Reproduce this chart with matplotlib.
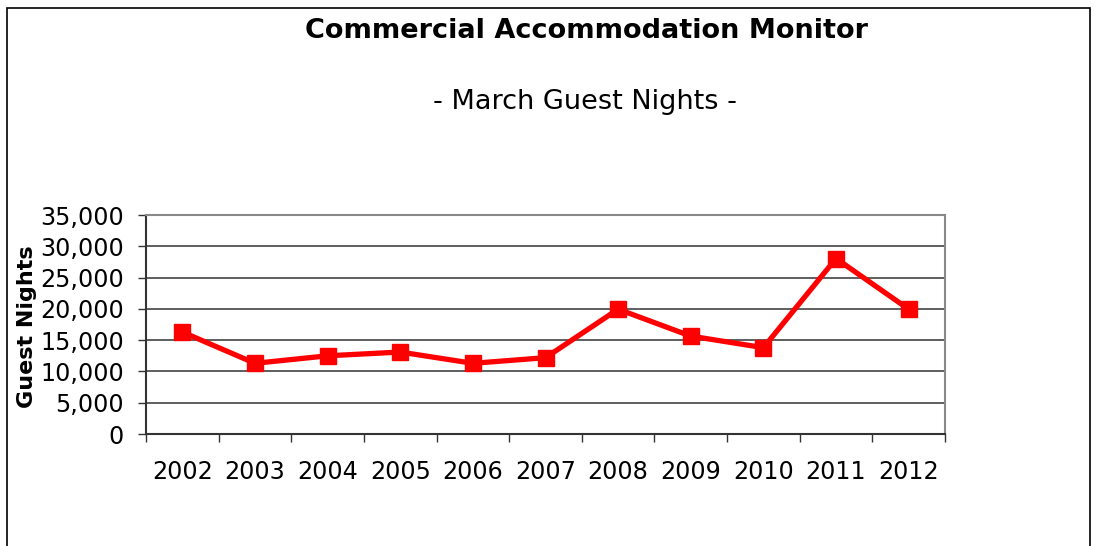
import matplotlib.pyplot as plt
from matplotlib.patches import Rectangle
from matplotlib.ticker import FixedLocator, FuncFormatter

# data
years = ["2002", "2003", "2004", "2005", "2006", "2007",
         "2008", "2009", "2010", "2011", "2012"]
guest_nights = [16300, 11300, 12500, 13100, 11300, 12200,
                19950, 15650, 13800, 28050, 19950]
y_ticks = [0, 5000, 10000, 15000, 20000, 25000, 30000, 35000]

fig = plt.figure(figsize=(10.94, 5.46), dpi=100)
fig.patches.append(Rectangle((0.0064, -0.02), 0.9896, 1.005, transform=fig.transFigure,
                             fill=False, edgecolor="black", linewidth=1.2))

ax = fig.add_axes([0.1335, 0.2051, 0.7303, 0.4011])

x = list(range(len(years)))
ax.plot(x, guest_nights, color="#ff0000", linewidth=3.8,
        marker="s", markersize=11, markeredgecolor="#ff0000")

ax.set_xlim(-0.5, len(years) - 0.5)
ax.set_ylim(0, 35000)

# category labels at centres, tick marks between categories
ax.xaxis.set_major_locator(FixedLocator([i - 0.5 for i in range(len(years) + 1)]))
ax.xaxis.set_major_formatter(FuncFormatter(lambda v, p: ""))
ax.xaxis.set_minor_locator(FixedLocator(x))
ax.set_xticklabels(years, minor=True)
ax.tick_params(axis="x", which="major", length=6, width=1, color="#333333", direction="out")
ax.tick_params(axis="x", which="minor", length=0, pad=19, labelsize=17.2)

ax.set_yticks(y_ticks)
ax.yaxis.set_major_formatter(FuncFormatter(lambda v, p: f"{int(v):,}"))
ax.tick_params(axis="y", length=6, width=1, color="#333333", direction="out",
               labelsize=17.2, pad=10)

ax.grid(axis="y", color="#333333", linewidth=1.1)
ax.set_axisbelow(True)

for side in ["top", "right"]:
    ax.spines[side].set_color("#888888")
    ax.spines[side].set_linewidth(1.5)
for side in ["left", "bottom"]:
    ax.spines[side].set_color("#333333")
    ax.spines[side].set_linewidth(1.5)

ax.set_ylabel("Guest Nights", fontsize=16, fontweight="bold")
ax.yaxis.set_label_coords(-0.137, 0.49)

fig.text(0.536, 0.943, "Commercial Accommodation Monitor", ha="center", va="center",
         fontsize=19.5, fontweight="bold")
fig.text(0.535, 0.813, "- March Guest Nights -", ha="center", va="center", fontsize=19.5)

fig.savefig("out.png", dpi=100)
